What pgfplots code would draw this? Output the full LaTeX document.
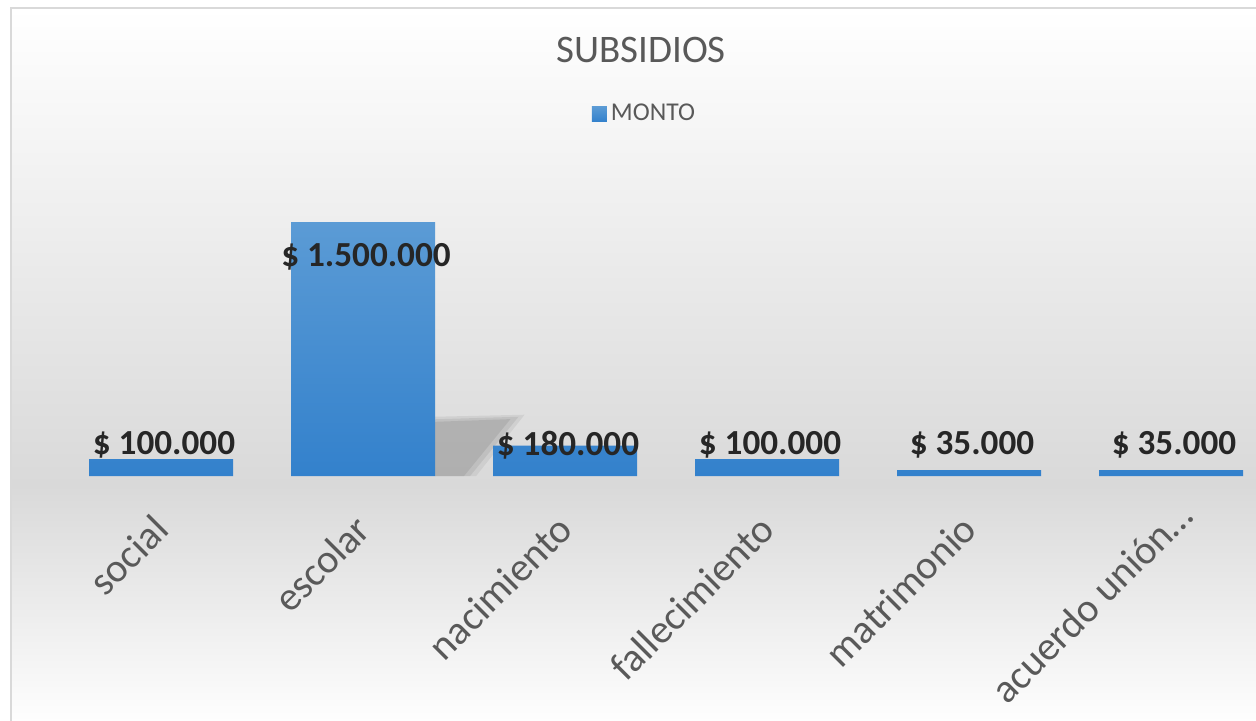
\documentclass[border=0pt]{standalone}
\usepackage{pgfplots}
\pgfplotsset{compat=1.18}
\usepackage{fontspec}
\setmainfont{Carlito}
\definecolor{barTop}{HTML}{5B9BD5}
\definecolor{barBot}{HTML}{3381CC}
\definecolor{bgg}{HTML}{D9D9D9}
\definecolor{bordergray}{HTML}{D9D9D9}
\definecolor{txt}{HTML}{595959}
\definecolor{lbl}{HTML}{262626}
\begin{document}
\begin{tikzpicture}
% background card
\shade[top color=white, bottom color=bgg] (5.5pt,117.5pt) rectangle (640pt,356pt);
\shade[top color=bgg, bottom color=white] (5.5pt,-4pt) rectangle (640pt,117.6pt);
\draw[color=bordergray, line width=0.9pt] (5.5pt,-5pt) -- (5.5pt,356pt) -- (640pt,356pt);
\begin{axis}[
  at={(30pt,122pt)}, anchor=south west,
  scale only axis, width=606pt, height=127pt,
  xmin=-0.5, xmax=5.5, ymin=0, ymax=1500000,
  clip=false,
  axis line style={draw=none},
  tick style={draw=none},
  ytick=\empty,
  xtick={0,1,2,3,4,5},
  xticklabels={social,escolar,nacimiento,fallecimiento,matrimonio,{acuerdo unión…\kern-10pt}},
  xticklabel style={xshift=-5pt, yshift=-18pt, rotate=45, anchor=north east, inner sep=0pt,
    font=\fontsize{20.2}{22}\selectfont, text=txt},
  title={SUBSIDIOS},
  title style={at={(0.4794,1.677)}, anchor=center, yshift=-6pt, font=\fontsize{19.5}{22}\selectfont, text=txt, inner sep=0pt},
  legend style={at={(0.4831,1.425)}, anchor=center, draw=none, fill=none,
    font=\fontsize{12.8}{14}\selectfont, text=txt,
    legend cell align=left},
  legend image code/.code={\shade[top color=barTop, bottom color=barBot] (0pt,-3.75pt) rectangle (7.5pt,3.75pt);},
]
% soft shadow of the tall bar (decoration)
\fill[black, opacity=0.06] (axis cs:1.356,0) -- (axis cs:1.356,350000) -- (axis cs:1.80,362000) -- (axis cs:1.56,0) -- cycle;
\fill[black, opacity=0.07] (axis cs:1.356,0) -- (axis cs:1.356,335000) -- (axis cs:1.77,350000) -- (axis cs:1.53,0) -- cycle;
\fill[black, opacity=0.08] (axis cs:1.356,0) -- (axis cs:1.356,320000) -- (axis cs:1.73,336000) -- (axis cs:1.50,0) -- cycle;
\addplot[ybar, bar width=72pt, draw=none, top color=barTop, bottom color=barBot]
  coordinates {(0,100000) (1,1500000) (2,180000) (3,100000) (4,35000) (5,35000)};
\addlegendentry{MONTO}
\addplot[draw=none, mark=none, forget plot,
  nodes near coords, point meta=explicit symbolic,
  nodes near coords align=center,
  every node near coord/.append style={anchor=center, inner sep=0pt, xshift=1.5pt,
    font=\bfseries\fontsize{17.6}{20}\selectfont, text=lbl}]
  coordinates {(0,183000)[\$ 100.000] (1,1296000)[\$ 1.500.000] (2,183000)[\$ 180.000]
               (3,183000)[\$ 100.000] (4,183000)[\$ 35.000] (5,183000)[\$ 35.000]};
\end{axis}
\pgfresetboundingbox
\path[use as bounding box] (0,0) rectangle (628pt,360pt);
\end{tikzpicture}
\end{document}
